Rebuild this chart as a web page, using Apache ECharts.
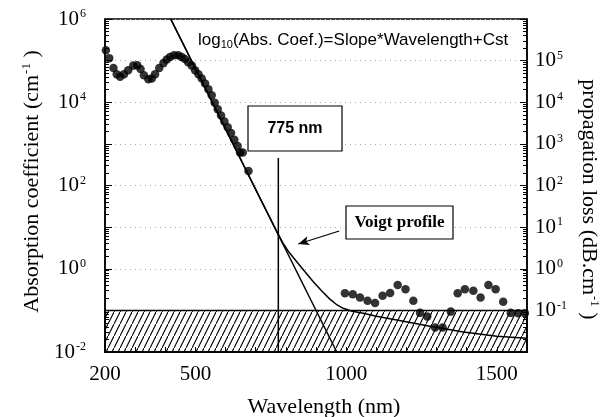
<!DOCTYPE html>
<html><head><meta charset="utf-8">
<script src="https://cdn.jsdelivr.net/npm/echarts@6/dist/echarts.min.js"></script>
<style>html,body{margin:0;padding:0;background:#fff}#c{width:601px;height:417px}</style>
</head><body><div id="c"></div>
<script>
// Measured absorption coefficient (dots): wavelength (nm) and log10(cm^-1)
const measuredWavelength = [203,214,228,239,250,263,277,294,307,318,329,344,355,366,380,394,405,416,429,443,454,465,476,488,499,510,521,532,543,554,564,574,585,596,607,618,629,640,648,657,676,
  996,1022,1046,1071,1096,1121,1146,1171,1197,1223,1245,1269,1295,1320,1347,1370,1394,1422,1446,1472,1496,1521,1546,1571,1593];
const measuredLog10 = [5.25,5.06,4.82,4.67,4.61,4.67,4.77,4.88,4.89,4.80,4.65,4.55,4.57,4.67,4.82,4.94,5.03,5.09,5.13,5.13,5.09,5.04,4.96,4.88,4.77,4.67,4.57,4.45,4.31,4.17,3.99,3.83,3.68,3.54,3.40,3.26,3.10,2.95,2.79,2.79,2.35,
  -0.59,-0.61,-0.69,-0.77,-0.82,-0.65,-0.58,-0.39,-0.49,-0.77,-1.06,-1.15,-1.41,-1.41,-1.03,-0.59,-0.49,-0.53,-0.69,-0.39,-0.49,-0.79,-1.06,-1.07,-1.07];
// Linear fit log10(Abs)=Slope*Wavelength+Cst (endpoints)
const fitWavelength = [418, 969];
const fitLog10 = [6, -2];
// Voigt profile curve
const voigtWavelength = [418,500,600,700,750,770,790,810,836,860,891,920,946,970,990,1020,1057,1100,1168,1278,1389,1500,1600];
const voigtLog10 = [6,4.81,3.36,1.90,1.18,0.89,0.62,0.40,0.17,-0.04,-0.31,-0.54,-0.73,-0.87,-0.95,-1.02,-1.07,-1.14,-1.23,-1.38,-1.52,-1.62,-1.67];
// 775 nm marker line
const markerWavelength = [775, 775];
const markerLog10 = [2.66, -2];
// Hatched region limits
const hatchLog10 = [-2, -1];
// Axis ticks
const xTickLabels = [200, 500, 1000, 1500];
const leftExponents = [-2, 0, 2, 4, 6];
const rightExponents = [-1, 0, 1, 2, 3, 4, 5];

const pts = (xs, ls) => xs.map((x, i) => [x, Math.pow(10, ls[i])]);

const hatch = document.createElement('canvas');
hatch.width = 6; hatch.height = 12;
const hc = hatch.getContext('2d');
hc.strokeStyle = '#000'; hc.lineWidth = 1.1;
hc.beginPath(); hc.moveTo(-1, 14); hc.lineTo(7, -2); hc.stroke();

const serif = 'Liberation Serif';
const supRich = {
  a: {fontFamily: serif, fontSize: 21, color: '#000'},
  b: {fontFamily: serif, fontSize: 12, color: '#000', padding: [0, 0, 10, 1]}
};
const titleRich = {
  a: {fontFamily: serif, fontSize: 22, color: '#000'},
  b: {fontFamily: serif, fontSize: 13, color: '#000', padding: [0, 0, 11, 1]}
};
const expLabel = (v, list) => {
  const e = Math.round(Math.log10(v));
  return list.includes(e) ? '{a|10}{b|' + e + '}' : '';
};

const chart = echarts.init(document.getElementById('c'));
chart.setOption({
  animation: false,
  backgroundColor: '#fff',
  grid: {left: 105, right: 74, top: 19, bottom: 65, containLabel: false, outerBoundsMode: 'none',
    show: true, borderColor: '#000', borderWidth: 1.5, backgroundColor: 'transparent'},
  xAxis: {
    type: 'value', min: 200, max: 1600, interval: 100,
    name: 'Wavelength (nm)', nameLocation: 'middle', nameGap: 44,
    nameTextStyle: {fontFamily: serif, fontSize: 22, color: '#000', padding: [0, 0, 0, 16]},
    axisLine: {lineStyle: {color: '#000', width: 1.5}},
    axisTick: {inside: true, length: 5, lineStyle: {color: '#000'}},
    axisLabel: {fontFamily: serif, fontSize: 21, color: '#000', margin: 12,
      formatter: v => xTickLabels.includes(v) ? String(v) : ''},
    splitLine: {show: false}
  },
  yAxis: [{
    type: 'log', logBase: 10, min: 0.01, max: 1e6, position: 'left',
    name: '{a|Absorption coefficient (cm}{b|-1}{a| )}', nameLocation: 'middle', nameGap: 61,
    nameTextStyle: {rich: titleRich, padding: [0, 0, 0, 8]},
    axisLine: {show: true, lineStyle: {color: '#000', width: 1.5}},
    axisTick: {inside: true, length: 7, lineStyle: {color: '#000'}},
    minorTick: {show: true, splitNumber: 9, length: 4, lineStyle: {color: '#000'}},
    axisLabel: {margin: 19, rich: supRich, formatter: v => expLabel(v, leftExponents)},
    splitLine: {show: true, lineStyle: {color: '#aaa', type: [1, 4], width: 1}}
  }, {
    type: 'log', logBase: 10, min: 0.01, max: 1e6, position: 'right',
    name: '{a|propagation loss (dB.cm}{b|-1}{a| )}', nameLocation: 'middle', nameGap: 41, nameRotate: -90,
    nameTextStyle: {rich: titleRich, padding: [0, 0, 0, 28]},
    axisLine: {show: true, lineStyle: {color: '#000', width: 1.5}},
    axisTick: {inside: true, length: 7, lineStyle: {color: '#000'}},
    minorTick: {show: true, splitNumber: 9, length: 4, lineStyle: {color: '#000'}},
    axisLabel: {margin: 8, rich: supRich, formatter: v => expLabel(v, rightExponents)},
    splitLine: {show: false}
  }],
  series: [{
    type: 'scatter', name: 'measured', z: 5,
    data: pts(measuredWavelength, measuredLog10),
    symbol: 'circle', symbolSize: 8.5, itemStyle: {color: '#000'},
    markArea: {
      silent: true, z: 1,
      itemStyle: {color: {image: hatch, repeat: 'repeat'}, borderColor: '#000', borderWidth: 1.5},
      data: [[{coord: [200, Math.pow(10, hatchLog10[0])]}, {coord: [1600, Math.pow(10, hatchLog10[1])]}]]
    }
  }, {
    type: 'line', name: 'fit', z: 4, showSymbol: false, symbol: 'none',
    data: pts(fitWavelength, fitLog10),
    lineStyle: {color: '#000', width: 1.5}
  }, {
    type: 'line', name: 'voigt', z: 4, showSymbol: false, symbol: 'none',
    data: pts(voigtWavelength, voigtLog10),
    lineStyle: {color: '#000', width: 1.5}
  }, {
    type: 'line', name: 'marker', z: 4, showSymbol: false, symbol: 'none',
    data: pts(markerWavelength, markerLog10),
    lineStyle: {color: '#000', width: 1.5},
    markLine: {
      silent: true, symbol: ['none', 'arrow'], symbolSize: [7, 11],
      lineStyle: {color: '#000', width: 1.2, type: 'solid'}, label: {show: false},
      data: [[{coord: [977, 8.07]}, {coord: [841, 3.94]}]]
    }
  }],
  graphic: [
    {type: 'text', left: 198, top: 32, z: 10, style: {
      text: '{n|log}{s|10}{n|(Abs. Coef.)=Slope*Wavelength+Cst}',
      rich: {n: {fontFamily: 'Liberation Sans', fontSize: 17, fill: '#000'},
             s: {fontFamily: 'Liberation Sans', fontSize: 11, fill: '#000', padding: [8, 0, 0, 0]}}}},
    {type: 'rect', shape: {x: 248, y: 106, width: 94, height: 45}, z: 10,
      style: {fill: '#fff', stroke: '#000', lineWidth: 1.2}},
    {type: 'text', x: 295, y: 128.5, z: 11, style: {text: '775 nm', fontFamily: 'Liberation Sans', fontWeight: 'bold', fontSize: 16, fill: '#000', align: 'center', verticalAlign: 'middle'}},
    {type: 'rect', shape: {x: 346, y: 206, width: 107, height: 33}, z: 10,
      style: {fill: '#fff', stroke: '#000', lineWidth: 1.2}},
    {type: 'text', x: 399.5, y: 222.5, z: 11, style: {text: 'Voigt profile', fontFamily: serif, fontWeight: 'bold', fontSize: 17, fill: '#000', align: 'center', verticalAlign: 'middle'}}
  ]
});
</script>
</body></html>
